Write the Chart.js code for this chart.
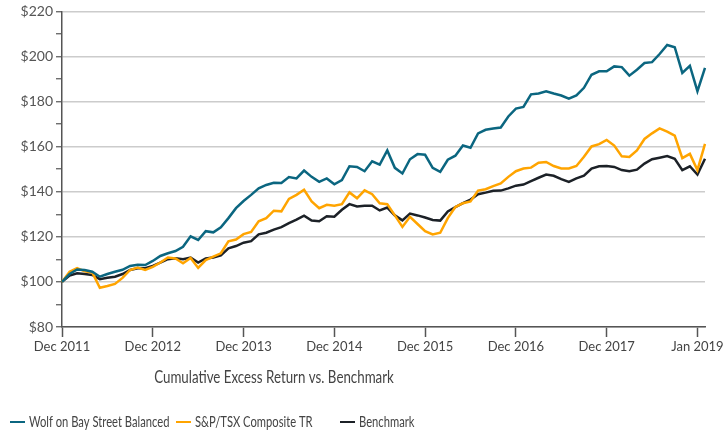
<!DOCTYPE html>
<html>
<head>
<meta charset="utf-8">
<script src="https://cdn.jsdelivr.net/npm/chart.js@4"></script>
<style>
  html, body { margin: 0; padding: 0; background: #fff; }
  #wrap { width: 728px; height: 435px; }
</style>
</head>
<body>
<div id="wrap"><canvas id="perfChart" width="728" height="435"></canvas></div>
<script>
// ── Data ─────────────────────────────────────────────
const tickLabels = ['Dec 2011','Dec 2012','Dec 2013','Dec 2014','Dec 2015','Dec 2016','Dec 2017','Jan 2019'];
const seriesNames = ['Wolf on Bay Street Balanced', 'S&P/TSX Composite TR', 'Benchmark'];
const chartTitle = 'Cumulative Excess Return vs. Benchmark';

// monthly values, Dec 2011 .. Jan 2019 (growth of $100)
const wolfBalanced = [100,103.5,105.5,105.3,104.5,102.3,103.5,104.5,105.4,107.1,
  107.6,107.5,109.3,111.5,112.7,113.7,115.6,120.2,118.6,122.5,
  122,124.2,128.3,132.7,135.9,138.6,141.5,143,144,143.9,
  146.5,145.9,149.4,146.6,144.4,145.9,143.3,145.2,151.3,151,
  149.1,153.5,152,158.3,150.6,148.1,154.4,156.7,156.4,150.6,
  148.8,154.2,156,160.5,159.5,165.9,167.5,168.1,168.5,173.4,
  176.9,177.6,183.2,183.6,184.6,183.6,182.7,181.3,182.7,186.1,
  191.9,193.4,193.4,195.6,195.3,191.5,194.1,197.1,197.5,201.1,
  205.1,204.1,192.7,195.9,184.6,194.9];

const tsxComposite = [100,104.5,106.1,104.7,104.2,97.4,98.2,99.1,101.8,105.3,
  106.4,105.3,106.7,108.6,110.8,110.4,108.3,110.6,106.2,109.7,
  111.2,112.7,118,118.8,121.2,122.2,126.9,128.3,131.6,131.3,
  136.8,138.6,140.9,135.7,132.7,134.2,133.8,134.5,139.7,137.1,
  140.6,138.9,134.9,134.5,129.5,124.4,128.9,125.7,122.5,121.1,
  121.8,128.3,133.2,134.9,135.7,140.5,141.1,142.5,143.7,146.6,
  149.1,150.3,150.7,152.9,153.2,151.4,150.3,150.3,151.4,155.5,
  160.1,161.1,163,160.5,155.7,155.4,158.3,163.4,165.9,168.1,
  166.7,164.9,154.9,156.8,149.6,161.2];

const benchmark = [100,102.8,103.8,103.5,103.1,101.2,101.8,102.3,103.5,105.3,
  106.1,106.1,107.1,108.6,110.1,110.5,110.1,110.8,108.6,110.4,
  110.8,111.8,114.9,115.9,117.4,118.1,121.1,121.8,123.2,124.3,
  126.1,127.6,129.4,127.2,126.9,129.1,128.9,132,134.5,133.5,
  133.8,133.8,131.7,133,129.5,127.3,130.3,129.5,128.6,127.5,
  127.2,131.3,133.2,134.9,136.5,138.9,139.6,140.4,140.5,141.5,
  142.7,143.2,144.7,146.2,147.6,147.1,145.6,144.4,145.9,147.1,
  150.3,151.3,151.4,151,149.6,149.1,149.8,152.5,154.4,155.1,
  155.8,154.6,149.6,151.3,147.6,154.6];

// month categories, one per data point
const MONTHS = ['Jan','Feb','Mar','Apr','May','Jun','Jul','Aug','Sep','Oct','Nov','Dec'];
const categories = wolfBalanced.map((_, i) => {
  const m = (11 + i) % 12;
  return MONTHS[m] + ' ' + (2011 + Math.floor((11 + i) / 12));
});

// ── Style ────────────────────────────────────────────
const FONT     = 'Lato, "Open Sans", sans-serif';
const COLORS   = ['#0b6680', '#ffa400', '#1c2127'];
const AXIS_CLR = '#555';
const GRID_CLR = '#cccccc';
const legendX  = [10, 176, 340];

// the original face is narrower than Lato, squeeze it horizontally
function condensedText(c, text, x, y, squeeze) {
  c.save();
  c.translate(x, y);
  c.scale(squeeze, 1);
  c.fillText(text, 0, 0);
  c.restore();
}

const overlayPlugin = {
  id: 'overlay',
  afterDraw(chart) {
    const c = chart.ctx;
    c.save();
    c.fillStyle = '#444';
    c.textBaseline = 'middle';
    c.font = '18px ' + FONT;
    c.textAlign = 'center';
    condensedText(c, chartTitle, 274, 377, 0.74);

    c.font = '16px ' + FONT;
    c.textAlign = 'left';
    chart.data.datasets.forEach((ds, i) => {
      const x = legendX[i];
      c.strokeStyle = ds.borderColor;
      c.lineWidth = 2;
      c.beginPath(); c.moveTo(x, 422); c.lineTo(x + 15, 422); c.stroke();
      condensedText(c, ds.label, x + 19, 422, 0.7);
    });
    c.restore();
  }
};

function lineSet(label, data, color) {
  return { label, data, borderColor: color, backgroundColor: color,
           borderWidth: 2.5, pointRadius: 0, tension: 0, fill: false };
}

new Chart(document.getElementById('perfChart'), {
  type: 'line',
  data: {
    labels: categories,
    datasets: [
      lineSet(seriesNames[0], wolfBalanced, COLORS[0]),
      lineSet(seriesNames[1], tsxComposite, COLORS[1]),
      lineSet(seriesNames[2], benchmark,    COLORS[2])
    ]
  },
  options: {
    responsive: false,
    animation: false,
    layout: { padding: { top: 8, right: 23, left: 0, bottom: 0 } },
    plugins: { legend: { display: false }, tooltip: { enabled: false } },
    scales: {
      x: {
        afterFit: s => { s.height = 108; },
        border: { color: AXIS_CLR, width: 1.5 },
        grid: {
          drawOnChartArea: false,
          tickLength: 10,
          tickWidth: 1.5,
          tickColor: ctx => (ctx.index % 12 === 0 ? AXIS_CLR : 'rgba(0,0,0,0)')
        },
        ticks: {
          autoSkip: false, maxRotation: 0, padding: 2,
          color: '#444', font: { family: FONT, size: 13 },
          callback: (v, i) => (i % 12 === 0 ? tickLabels[i / 12] : '')
        }
      },
      y: {
        min: 80, max: 220,
        afterFit: s => { s.width = 62; },
        border: { color: AXIS_CLR, width: 1.5 },
        grid: {
          lineWidth: 1.5,
          color: ctx => (ctx.tick.value % 20 === 0 ? GRID_CLR : 'rgba(0,0,0,0)'),
          tickColor: AXIS_CLR,
          tickLength: 6,
          tickWidth: 1.2
        },
        ticks: {
          stepSize: 5, padding: 3,
          color: '#555', font: { family: FONT, size: 14 },
          callback: v => (v % 20 === 0 ? '$' + v : '')
        }
      }
    }
  },
  plugins: [overlayPlugin]
});
</script>
</body>
</html>
